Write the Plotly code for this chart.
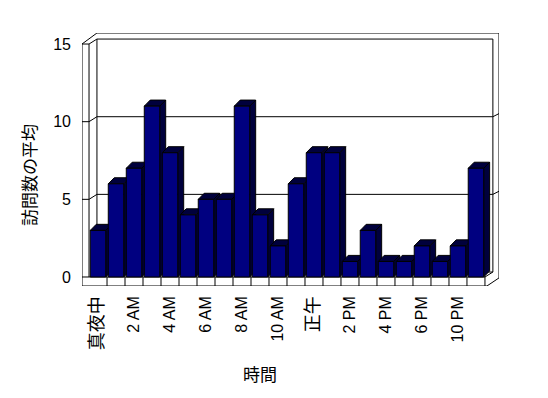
import plotly.graph_objects as go

# ---- data ----
hours = ["真夜中", "1 AM", "2 AM", "3 AM", "4 AM", "5 AM", "6 AM", "7 AM", "8 AM",
         "9 AM", "10 AM", "11 AM", "正午", "1 PM", "2 PM", "3 PM", "4 PM", "5 PM",
         "6 PM", "8 PM", "10 PM", "11 PM"]
visits = [3, 6, 7, 11, 8, 4, 5, 5, 11, 4, 2, 6, 8, 8, 1, 3, 1, 1, 2, 1, 2, 7]
y_ticks = [0, 5, 10, 15]
x_title = "時間"
y_title = "訪問数の平均"

# ---- style / geometry (data units) ----
FONT = "Liberation Sans, Noto Sans CJK JP, sans-serif"
N = len(hours)
BAR_W = 0.86
BDX, BDY = 0.33, 0.39          # bar depth offsets
LX, RX = -0.5, N - 0.5         # category area edges
WT = 0.39                      # left wall thickness
DX, DY = 0.44, 0.32            # wall depth offsets
FT = 0.58                      # floor thickness
TOPV = y_ticks[-1]
XMIN, XMAX = LX - WT, RX + DX + 0.34
YMIN, YMAX = -FT, TOPV + DY + 0.39

shapes = []


def path(pts, fill=None, layer="below", width=1):
    d = "M " + " L ".join(f"{x},{y}" for x, y in pts)
    if fill:
        d += " Z"
    shapes.append(dict(type="path", path=d, xref="x", yref="y", layer=layer,
                       line=dict(color="black", width=width),
                       fillcolor=fill if fill else "rgba(0,0,0,0)"))


# back wall
path([(LX + DX, DY), (LX + DX, TOPV + DY), (RX + DX, TOPV + DY), (RX + DX, DY)])
# gridlines on walls
for v in y_ticks:
    pts = [(XMIN, v), (LX, v)]
    if 0 < v < TOPV:
        pts += [(LX + DX, v + DY), (RX + DX, v + DY), (XMAX, v + DY + 0.2)]
    path(pts)
# left wall inner edge
path([(LX, 0), (LX, TOPV), (LX + DX, TOPV + DY)])
# outer outline
path([(XMIN, YMIN), (XMIN, TOPV), (LX + DX, YMAX), (XMAX, YMAX), (XMAX, -0.06),
      (RX + 0.11, YMIN), (XMIN, YMIN)])
# floor front top edge and back edge
path([(LX, 0), (RX, 0), (RX + DX, DY)])
path([(LX + DX, DY), (RX + DX, DY)])
# floor separators
for i in range(1, N + 1):
    path([(i - 0.5, 0), (i - 0.5, YMIN)])

# bar tops and sides
for i, v in enumerate(visits):
    x0, x1 = i - BAR_W / 2, i + BAR_W / 2
    path([(x1, 0), (x1 + BDX, BDY), (x1 + BDX, v + BDY), (x1, v)], fill="#00003c")
    path([(x0, v), (x0 + BDX, v + BDY), (x1 + BDX, v + BDY), (x1, v)], fill="#00003c")

fig = go.Figure(go.Bar(
    x=list(range(N)), y=visits, width=BAR_W,
    marker=dict(color="#000080", line=dict(color="black", width=1)),
    hoverinfo="skip",
))


def tick_text(label):
    # CJK labels are drawn slightly larger in the original
    if any(ord(c) > 0x2E80 for c in label):
        return f'<span style="font-size:18px">{label}</span>'
    return label


# page body has an 8px margin, so the figure is 8px smaller on each side
fig.update_layout(
    width=540, height=390, autosize=False,
    margin=dict(l=74, r=49, t=25, b=112),
    paper_bgcolor="white", plot_bgcolor="white",
    showlegend=False, shapes=shapes,
    font=dict(family=FONT, color="black", size=15),
    xaxis=dict(range=[XMIN, XMAX], showgrid=False, zeroline=False, showline=False,
               tickmode="array", tickvals=list(range(0, N, 2)),
               ticktext=[tick_text(h) for h in hours[::2]],
               tickangle=-90, ticks="", ticklabelstandoff=6,
               tickfont=dict(size=16, family=FONT)),
    yaxis=dict(range=[YMIN, YMAX], showgrid=False, zeroline=False, showline=False,
               tickmode="array", tickvals=y_ticks, ticks="", ticklabelstandoff=10,
               tickfont=dict(size=16, family=FONT)),
    annotations=[
        dict(text=y_title, textangle=-90, xref="paper", yref="paper",
             x=(30 - 82) / 417, y=(286 - 175) / 253, showarrow=False,
             xanchor="center", yanchor="middle", font=dict(size=17, family=FONT)),
        dict(text=x_title, xref="paper", yref="paper",
             x=(260 - 82) / 417, y=(286 - 375) / 253, showarrow=False,
             xanchor="center", yanchor="middle", font=dict(size=17, family=FONT)),
    ],
)

fig.write_html("out.html")
